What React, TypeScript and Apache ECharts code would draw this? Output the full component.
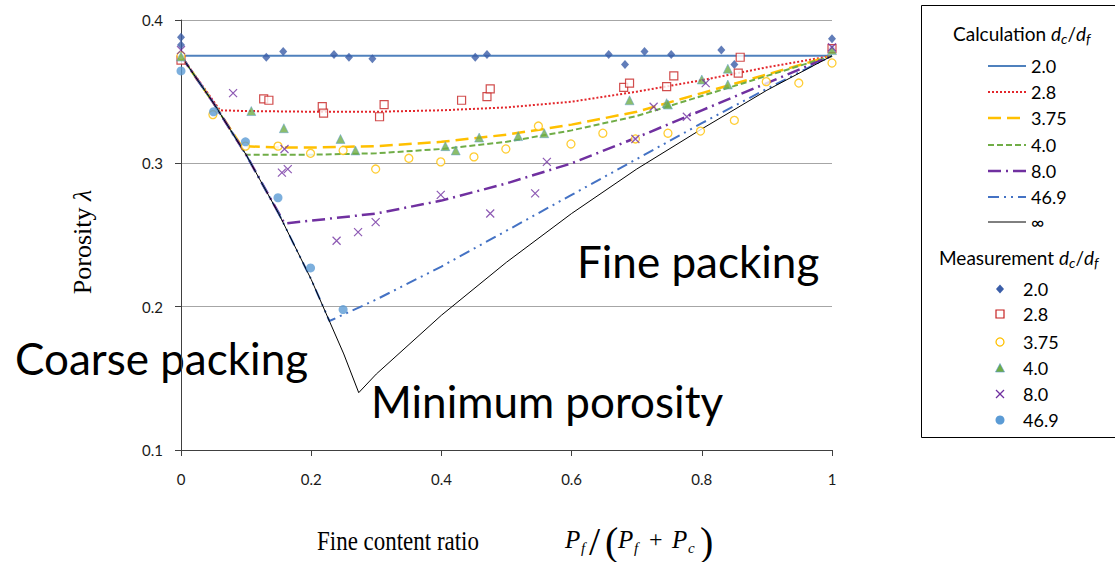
import React, { useEffect, useRef } from "react";
import * as echarts from "echarts";

// Axis ticks
const xTickLabels = ["0", "0.2", "0.4", "0.6", "0.8", "1"];
const yTickLabels = ["0.1", "0.2", "0.3", "0.4"];

// Calculated porosity curves [fine content ratio, porosity]
const calc20 = [[0, 0.375], [1, 0.375]];
const calc28 = [[0, 0.375], [0.03, 0.356], [0.06, 0.337], [0.1, 0.3365], [0.2, 0.336], [0.3, 0.336], [0.4, 0.337], [0.5, 0.339], [0.6, 0.343], [0.7, 0.35], [0.8, 0.358], [0.9, 0.367], [1, 0.375]];
const calc375 = [[0, 0.375], [0.05, 0.342], [0.093, 0.312], [0.15, 0.311], [0.2, 0.311], [0.3, 0.312], [0.4, 0.315], [0.5, 0.32], [0.6, 0.327], [0.7, 0.336], [0.8, 0.349], [0.9, 0.362], [1, 0.375]];
const calc40 = [[0, 0.375], [0.05, 0.342], [0.1, 0.306], [0.15, 0.306], [0.2, 0.306], [0.3, 0.307], [0.4, 0.31], [0.5, 0.315], [0.6, 0.323], [0.7, 0.333], [0.8, 0.347], [0.9, 0.361], [1, 0.375]];
const calc80 = [[0, 0.375], [0.05, 0.342], [0.1, 0.306], [0.159, 0.258], [0.2, 0.26], [0.3, 0.265], [0.4, 0.274], [0.5, 0.286], [0.6, 0.3], [0.7, 0.318], [0.8, 0.337], [0.9, 0.356], [1, 0.375]];
const calc469 = [[0, 0.375], [0.05, 0.342], [0.1, 0.306], [0.15, 0.265], [0.2, 0.219], [0.228, 0.19], [0.3, 0.205], [0.4, 0.228], [0.5, 0.253], [0.6, 0.278], [0.7, 0.303], [0.8, 0.328], [0.9, 0.352], [1, 0.375]];
const calcInf = [[0, 0.375], [0.05, 0.342], [0.1, 0.306], [0.15, 0.265], [0.2, 0.219], [0.25, 0.167], [0.273, 0.14], [0.3, 0.153], [0.4, 0.194], [0.5, 0.231], [0.6, 0.265], [0.7, 0.296], [0.8, 0.324], [0.9, 0.351], [1, 0.375]];

// Measured porosity
const meas20 = [[0, 0.388], [0, 0.3825], [0.131, 0.374], [0.157, 0.378], [0.235, 0.376], [0.258, 0.374], [0.294, 0.373], [0.452, 0.374], [0.47, 0.376], [0.657, 0.376], [0.682, 0.369], [0.712, 0.378], [0.753, 0.376], [0.83, 0.379], [0.85, 0.369], [1, 0.387], [1, 0.38]];
const meas28 = [[0, 0.372], [0.127, 0.345], [0.135, 0.344], [0.217, 0.3395], [0.219, 0.335], [0.305, 0.3325], [0.312, 0.341], [0.431, 0.344], [0.47, 0.3465], [0.475, 0.352], [0.68, 0.353], [0.689, 0.356], [0.746, 0.3535], [0.757, 0.361], [0.856, 0.363], [0.859, 0.374], [1, 0.38]];
const meas375 = [[0, 0.375], [0.049, 0.334], [0.099, 0.312], [0.149, 0.312], [0.199, 0.307], [0.249, 0.309], [0.299, 0.296], [0.35, 0.3035], [0.399, 0.301], [0.45, 0.3045], [0.499, 0.31], [0.549, 0.326], [0.599, 0.3135], [0.648, 0.321], [0.698, 0.317], [0.748, 0.321], [0.798, 0.3225], [0.85, 0.33], [0.899, 0.357], [0.949, 0.356], [1, 0.37]];
const meas40 = [[0, 0.3745], [0.108, 0.3365], [0.158, 0.3245], [0.245, 0.317], [0.268, 0.309], [0.406, 0.312], [0.422, 0.309], [0.458, 0.318], [0.518, 0.319], [0.558, 0.321], [0.689, 0.344], [0.746, 0.342], [0.748, 0.341], [0.8, 0.3585], [0.84, 0.366], [0.84, 0.355], [1, 0.379]];
const meas80 = [[0, 0.379], [0.08, 0.349], [0.159, 0.31], [0.155, 0.2935], [0.164, 0.296], [0.239, 0.246], [0.272, 0.252], [0.299, 0.259], [0.399, 0.278], [0.475, 0.265], [0.544, 0.279], [0.562, 0.301], [0.698, 0.317], [0.726, 0.3395], [0.777, 0.3325], [0.806, 0.356], [1, 0.381]];
const meas469 = [[0, 0.3645], [0.05, 0.336], [0.099, 0.315], [0.149, 0.276], [0.199, 0.227], [0.249, 0.198]];

const ratioLabels = ["2.0", "2.8", "3.75", "4.0", "8.0", "46.9"];

const SANS = "Lato, 'Noto Sans', sans-serif";
const SERIF = "'Liberation Serif', 'DejaVu Serif', serif";

const calcStyles = [
  { data: calc20, color: "#4F81BD", width: 2, dash: "solid" as any },
  { data: calc28, color: "#E3262B", width: 2, dash: [2, 2] },
  { data: calc375, color: "#FFC000", width: 2.5, dash: [13, 6] },
  { data: calc40, color: "#70AD47", width: 2, dash: [6, 3] },
  { data: calc80, color: "#7030A0", width: 2.5, dash: [13, 5, 2, 5] },
  { data: calc469, color: "#4472C4", width: 2, dash: [11, 5, 2, 5, 2, 5] },
  { data: calcInf, color: "#000000", width: 1, dash: "solid" as any },
];
const calcLegendLabels = [...ratioLabels, "∞"];

const X_MARK = "path://M0,0L10,10M10,0L0,10";
const measStyles = [
  { data: meas20, symbol: "diamond", size: [8, 9], item: { color: "#3A5DA8" } },
  { data: meas28, symbol: "rect", size: 8, item: { color: "#fff", borderColor: "#C62020", borderWidth: 1.2 } },
  { data: meas375, symbol: "circle", size: 8, item: { color: "#fff", borderColor: "#FFC000", borderWidth: 1.3 } },
  { data: meas40, symbol: "triangle", size: 9, item: { color: "#6FAC46", borderColor: "#5B9BD5", borderWidth: 0.6 } },
  { data: meas80, symbol: X_MARK, size: 8, item: { color: "none", borderColor: "#7030A0", borderWidth: 1.2 } },
  { data: meas469, symbol: "circle", size: 9, item: { color: "#5B9BD5" } },
];

function legendGraphics(): any[] {
  const g: any[] = [];
  g.push({
    type: "rect",
    shape: { x: 921.5, y: 5.5, width: 260, height: 432 },
    style: { fill: "none", stroke: "#000", lineWidth: 1 },
    silent: true,
  });
  const rich = {
    n: { fontFamily: SANS, fontSize: 19, lineHeight: 24, color: "#000" },
    i: { fontFamily: SANS, fontSize: 19, lineHeight: 24, fontStyle: "italic", color: "#000" },
    s: { fontFamily: SANS, fontSize: 14, lineHeight: 16, fontStyle: "italic", verticalAlign: "bottom", color: "#000" },
  };
  g.push({
    type: "text",
    x: 953,
    y: 33,
    style: { text: "{n|Calculation }{i|d}{s|c}{n|/}{i|d}{s|f}", rich, verticalAlign: "middle", align: "left" },
  });
  g.push({
    type: "text",
    x: 939,
    y: 257,
    style: { text: "{n|Measurement }{i|d}{s|c}{n|/}{i|d}{s|f}", rich, verticalAlign: "middle", align: "left" },
  });
  const calcRows = [66, 92, 118, 145, 171, 197, 222];
  calcStyles.forEach((c, k) => {
    const y = calcRows[k];
    g.push({
      type: "line",
      shape: { x1: 988, y1: y, x2: 1026, y2: y },
      style: { stroke: c.color, lineWidth: c.width, lineDash: c.dash === "solid" ? null : c.dash },
    });
    g.push({
      type: "text",
      x: 1031,
      y,
      style: { text: calcLegendLabels[k], fontFamily: SANS, fontSize: 18, fill: "#000", verticalAlign: "middle" },
    });
  });
  const measRows = [289, 314, 342, 368, 394, 420];
  const mx = 1000;
  measRows.forEach((y, k) => {
    if (k === 0) {
      g.push({ type: "polygon", shape: { points: [[mx, y - 4.5], [mx + 4, y], [mx, y + 4.5], [mx - 4, y]] }, style: { fill: "#3A5DA8" } });
    } else if (k === 1) {
      g.push({ type: "rect", shape: { x: mx - 4, y: y - 4, width: 8, height: 8 }, style: { fill: "#fff", stroke: "#C62020", lineWidth: 1.2 } });
    } else if (k === 2) {
      g.push({ type: "circle", shape: { cx: mx, cy: y, r: 4 }, style: { fill: "#fff", stroke: "#FFC000", lineWidth: 1.3 } });
    } else if (k === 3) {
      g.push({ type: "polygon", shape: { points: [[mx, y - 4.5], [mx + 4.5, y + 4], [mx - 4.5, y + 4]] }, style: { fill: "#6FAC46", stroke: "#5B9BD5", lineWidth: 0.6 } });
    } else if (k === 4) {
      g.push({ type: "line", shape: { x1: mx - 4, y1: y - 4, x2: mx + 4, y2: y + 4 }, style: { stroke: "#7030A0", lineWidth: 1.2 } });
      g.push({ type: "line", shape: { x1: mx + 4, y1: y - 4, x2: mx - 4, y2: y + 4 }, style: { stroke: "#7030A0", lineWidth: 1.2 } });
    } else {
      g.push({ type: "circle", shape: { cx: mx, cy: y, r: 4.5 }, style: { fill: "#5B9BD5" } });
    }
    g.push({
      type: "text",
      x: 1023,
      y,
      style: { text: ratioLabels[k], fontFamily: SANS, fontSize: 18, fill: "#000", verticalAlign: "middle" },
    });
  });
  return g;
}

function titleGraphics(): any[] {
  const g: any[] = [];
  // Region annotations
  const big = (text: string, x: number, y: number) => ({
    type: "text",
    x,
    y,
    style: { text, fontFamily: SANS, fontSize: 44, fill: "#000", verticalAlign: "middle", align: "left" },
  });
  g.push(big("Coarse packing", 15, 358));
  g.push(big("Fine packing", 577, 261));
  g.push(big("Minimum porosity", 371, 401));

  // Y axis title
  g.push({
    type: "text",
    x: 82,
    y: 242,
    rotation: Math.PI / 2,
    style: {
      text: "{a|Porosity }{b|λ}",
      rich: {
        a: { fontFamily: SERIF, fontSize: 26, color: "#000" },
        b: { fontFamily: SERIF, fontSize: 26, fontStyle: "italic", color: "#000" },
      },
      align: "center",
      verticalAlign: "middle",
    },
  });

  // X axis title and ratio expression
  g.push({
    type: "text",
    x: 398,
    y: 541,
    scaleX: 0.82,
    style: { text: "Fine content ratio", fontFamily: SERIF, fontSize: 28, fill: "#000", align: "center", verticalAlign: "middle" },
  });
  const it = (text: string, x: number, y: number, size: number, italic = true) => ({
    type: "text",
    x,
    y,
    style: { text, fontFamily: SERIF, fontSize: size, fontStyle: italic ? "italic" : "normal", fill: "#000", verticalAlign: "middle", align: "left" },
  });
  g.push(it("P", 565, 539, 25));
  g.push(it("f", 581, 548, 15));
  g.push(it("/", 589, 541, 40, false));
  g.push(it("(", 605, 541, 40, false));
  g.push(it("P", 618, 539, 25));
  g.push(it("f", 634, 548, 15));
  g.push(it("+", 649, 539, 24, false));
  g.push(it("P", 672, 539, 25));
  g.push(it("c", 688, 548, 15));
  g.push(it(")", 700, 541, 40, false));
  return g;
}

export default function App() {
  const ref = useRef<HTMLDivElement>(null);
  useEffect(() => {
    if (!ref.current) return;
    const chart = echarts.init(ref.current, undefined, { renderer: "svg" });
    const series: any[] = [];
    calcStyles.forEach((c, k) => {
      series.push({
        name: "Calculation " + calcLegendLabels[k],
        type: "line",
        data: c.data,
        showSymbol: false,
        symbol: "none",
        smooth: false,
        lineStyle: { color: c.color, width: c.width, type: c.dash },
        z: 2,
        silent: true,
      });
    });
    measStyles.forEach((m, k) => {
      series.push({
        name: "Measurement " + ratioLabels[k],
        type: "scatter",
        data: m.data,
        symbol: m.symbol,
        symbolSize: m.size,
        itemStyle: m.item,
        z: 3,
        silent: true,
      });
    });
    chart.setOption({
      animation: false,
      backgroundColor: "#fff",
      grid: { left: 181, right: 283, top: 20, bottom: 112, containLabel: false },
      xAxis: {
        type: "value",
        min: 0,
        max: 1,
        interval: 0.2,
        axisLine: { show: true, lineStyle: { color: "#404040", width: 1 } },
        axisTick: { show: true, inside: false, length: 6, lineStyle: { color: "#404040" } },
        axisLabel: {
          margin: 21,
          fontFamily: SANS,
          fontSize: 15,
          color: "#1a1a1a",
          formatter: (v: number) => xTickLabels[Math.round(v / 0.2)],
        },
        splitLine: { show: false },
      },
      yAxis: {
        type: "value",
        min: 0.1,
        max: 0.4,
        interval: 0.1,
        axisLine: { show: true, onZero: false, lineStyle: { color: "#404040", width: 1 } },
        axisTick: { show: true, inside: false, length: 6, lineStyle: { color: "#404040" } },
        axisLabel: {
          margin: 18,
          fontFamily: SANS,
          fontSize: 15,
          color: "#1a1a1a",
          formatter: (v: number) => yTickLabels[Math.round(v / 0.1) - 1],
        },
        splitLine: { show: true, lineStyle: { color: "#A6A6A6", width: 1 } },
      },
      series,
      graphic: [...titleGraphics(), ...legendGraphics()],
    });
    return () => chart.dispose();
  }, []);
  return (
    <div
      ref={ref}
      style={{ position: "fixed", left: 0, top: 0, width: 1115, height: 562, background: "#fff" }}
    />
  );
}
